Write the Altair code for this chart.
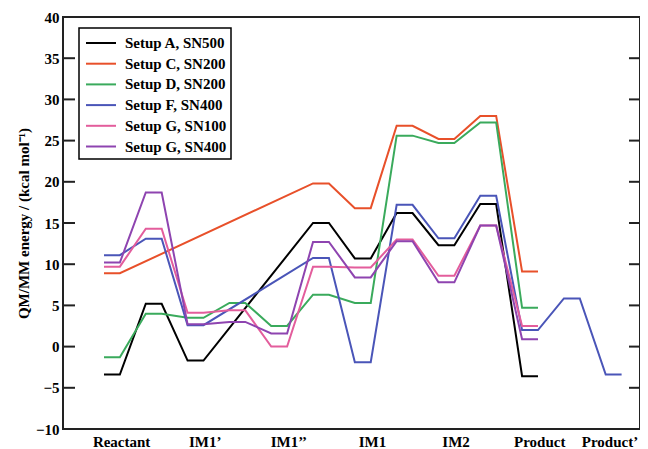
import json
import altair as alt
import pandas as pd

# ---- data ----
stages = ["Reactant", "TS1", "IM1'", "TS2", "IM1''", "TS3", "IM1", "TS4",
          "IM2", "TS5", "Product", "TS6", "Product'"]
axis_labels = ["Reactant", "IM1\u2019", "IM1\u2019\u2019", "IM1", "IM2", "Product", "Product\u2019"]
axis_label_pos = [0.22, 2.22, 4.22, 6.22, 8.22, 10.22, 11.9]

series_names = ["Setup A, SN500", "Setup C, SN200", "Setup D, SN200",
                "Setup F, SN400", "Setup G, SN100", "Setup G, SN400"]
colors = ["#000000", "#e8502a", "#3aaa5c", "#4a55b8", "#e35d9c", "#8e44b0"]

setup_a_sn500 = [-3.4, 5.2, -1.7, None, None, 15.0, 10.7, 16.2, 12.3, 17.3, -3.6, None, None]
setup_c_sn200 = [8.9, None, None, None, None, 19.8, 16.8, 26.8, 25.2, 28.0, 9.1, None, None]
setup_d_sn200 = [-1.3, 4.0, 3.5, 5.3, 2.5, 6.3, 5.3, 25.6, 24.7, 27.2, 4.7, None, None]
setup_f_sn400 = [11.1, 13.1, 2.6, None, None, 10.75, -1.9, 17.2, 13.15, 18.3, 2.0, 5.85, -3.4]
setup_g_sn100 = [9.7, 14.3, 4.1, 4.4, 0.0, 9.7, 9.6, 13.0, 8.6, 14.7, 2.5, None, None]
setup_g_sn400 = [10.2, 18.7, 2.7, 3.0, 1.6, 12.7, 8.4, 12.8, 7.8, 14.7, 0.9, None, None]

y_ticks = list(range(-10, 41, 5))

all_series = [setup_a_sn500, setup_c_sn200, setup_d_sn200,
              setup_f_sn400, setup_g_sn100, setup_g_sn400]

HALF = 0.19  # half width of each level plateau (in stage units)
rows = []
for name, vals in zip(series_names, all_series):
    for i, v in enumerate(vals):
        if v is None:
            continue
        rows.append({"series": name, "x": i - HALF, "y": v})
        rows.append({"series": name, "x": i + HALF, "y": v})
df = pd.DataFrame(rows)
ticks_df = pd.DataFrame({"y": y_ticks})

FONT = "Liberation Serif"
FW = "bold"
W, H = 577, 412

xscale = alt.Scale(domain=[-1.17, 12.63], nice=False, zero=False)
yscale = alt.Scale(domain=[-10, 40], nice=False, zero=False)

yaxis = alt.Axis(values=y_ticks, ticks=False, domain=False, grid=False,
                 labelFont=FONT, labelFontSize=15, labelFontWeight=FW,
                 labelColor="black", labelPadding=4,
                 title="QM/MM energy / (kcal mol\u207b\u00b9)", titleFont=FONT,
                 titleFontSize=15, titleFontWeight=FW, titleColor="black",
                 titlePadding=4)
xaxis = alt.Axis(values=axis_label_pos, ticks=False, domain=False, grid=False,
                 labelExpr=json.dumps(axis_labels, ensure_ascii=False) + "[round(datum.value / 2)]",
                 labelFont=FONT, labelFontSize=15, labelFontWeight=FW,
                 labelColor="black", labelPadding=5,
                 labelFlush=False, labelOverlap=False, title=None)

lines = alt.Chart(df).mark_line(strokeWidth=2).encode(
    x=alt.X("x:Q", scale=xscale, axis=xaxis),
    y=alt.Y("y:Q", scale=yscale, axis=yaxis),
    color=alt.Color("series:N", scale=alt.Scale(domain=series_names, range=colors),
                    legend=alt.Legend(title=None, orient="none", legendX=16, legendY=11,
                                      fillColor="white", strokeColor="black",
                                      padding=4, rowPadding=1.7, labelFont=FONT,
                                      labelFontSize=15, labelFontWeight=FW,
                                      labelColor="black",
                                      symbolType="M-0.8,0L2.2,0", symbolSize=400,
                                      symbolStrokeWidth=2, labelOffset=20,
                                      cornerRadius=0)),
    order="x:Q",
)

left_ticks = alt.Chart(ticks_df).mark_rule(color="#222", strokeWidth=2).encode(
    y=alt.Y("y:Q", scale=yscale, axis=yaxis),
    x=alt.value(0), x2=alt.value(12),
)
right_ticks = alt.Chart(ticks_df).mark_rule(color="#222", strokeWidth=2).encode(
    y=alt.Y("y:Q", scale=yscale, axis=yaxis),
    x=alt.value(W - 11), x2=alt.value(W),
)

chart = alt.layer(lines, left_ticks, right_ticks).properties(
    width=W, height=H,
    autosize=alt.AutoSizeParams(type="none"),
    padding={"left": 55, "top": 9, "right": 0, "bottom": 20},
    background="white",
).configure_view(stroke="#222", strokeWidth=2).configure_legend(strokeWidth=1.5)

chart.save("out.html", embed_options={"renderer": "svg", "actions": False})
